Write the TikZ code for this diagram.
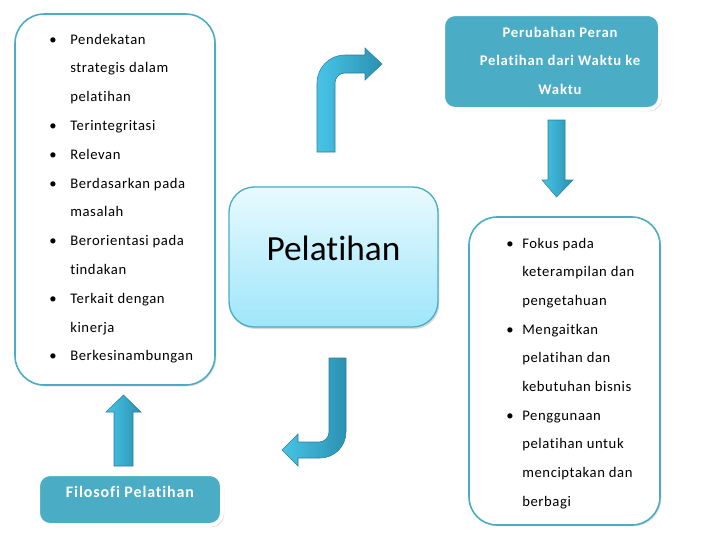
\documentclass[tikz,border=0pt]{standalone}
\usepackage{fontspec}
\setmainfont{Carlito}[Ligatures=NoCommon]
\newfontfamily\lsreg{Carlito}[LetterSpace=4, Ligatures=NoCommon]
\newfontfamily\lstitle{Carlito}[LetterSpace=5.5, Ligatures=NoCommon]
\usetikzlibrary{shadows}
\definecolor{teal5}{RGB}{75,172,198}
\definecolor{arrlight}{RGB}{72,196,230}
\definecolor{arrdark}{RGB}{42,145,178}
\definecolor{arredge}{RGB}{40,128,155}
\definecolor{ctop}{RGB}{232,250,255}
\definecolor{cbot}{RGB}{158,230,250}
\newcommand{\bitem}[2]{\par\hangindent=#1\noindent\makebox[#1][l]{\textbullet}#2}
\tikzset{
  listbox/.style={draw=teal5, line width=1.2pt, fill=white, inner sep=0pt,
    drop shadow={shadow xshift=1pt, shadow yshift=-1pt, opacity=0.25}},
  titlebox/.style={draw=white, line width=3pt, fill=teal5, inner sep=0pt, rounded corners=9pt,
    drop shadow={shadow xshift=1.5pt, shadow yshift=-1.5pt, opacity=0.35}},
  txt/.style={inner sep=0pt, font=\lsreg\fontsize{11pt}{21.5pt}\selectfont},
  bigarrow/.style={draw=arredge, line width=0.4pt, left color=arrlight, right color=arrdark}
}
\begin{document}
\begin{tikzpicture}[x=0.75pt,y=-0.75pt]
\useasboundingbox (0,0) rectangle (707,537);
% boxes
\node[listbox, rounded corners=22pt, minimum width=150pt, minimum height=278.25pt] (left) at (115,199.5) {};
\node[listbox, rounded corners=21pt, minimum width=143.25pt, minimum height=231pt] (right) at (564.5,371) {};
\node[draw=teal5, line width=1pt, rounded corners=19pt, top color=ctop, bottom color=cbot,
  minimum width=156.75pt, minimum height=105pt, inner sep=0pt,
  drop shadow={shadow xshift=1pt, shadow yshift=-1.5pt, opacity=0.3}] (center) at (333.5,257) {};
\node[inner sep=0pt, font=\fontsize{26.5pt}{30pt}\selectfont] (centertxt) at (333.5,248) {Pelatihan};
\node[titlebox, minimum width=162.75pt, minimum height=71.25pt] (topright) at (551.5,61.5) {};
\node[titlebox, minimum width=138pt, minimum height=38.25pt] (botleft) at (130,499.5) {};
% title texts
\node[inner sep=0pt, anchor=base, text=white, font=\lstitle\fontsize{11pt}{21.4pt}\selectfont\bfseries] (toptxt) at (560,37)
  {\begin{minipage}[t]{150pt}\centering Perubahan Peran\\Pelatihan dari Waktu ke\\Waktu\end{minipage}};
\node[inner sep=0pt, anchor=base, text=white, font=\lstitle\fontsize{12pt}{14pt}\selectfont\bfseries] (bottxt) at (130,497.5) {Filosofi Pelatihan};
% list texts
\node[txt, anchor=base west] (lefttxt) at (49,44) {\begin{minipage}[t]{145pt}\fontsize{11pt}{21.6pt}\selectfont
\bitem{15.75pt}{Pendekatan\\strategis dalam\\pelatihan}
\bitem{15.75pt}{Terintegritasi}
\bitem{15.75pt}{Relevan}
\bitem{15.75pt}{Berdasarkan pada\\masalah}
\bitem{15.75pt}{Berorientasi pada\\tindakan}
\bitem{15.75pt}{Terkait dengan\\kinerja}
\bitem{15.75pt}{Berkesinambungan}
\end{minipage}};
\node[txt, anchor=base west] (righttxt) at (506,248) {\begin{minipage}[t]{130pt}\fontsize{11pt}{21.5pt}\selectfont
\bitem{12pt}{Fokus pada\\keterampilan dan\\pengetahuan}
\bitem{12pt}{Mengaitkan\\pelatihan dan\\kebutuhan bisnis}
\bitem{12pt}{Penggunaan\\pelatihan untuk\\menciptakan dan\\berbagi}
\end{minipage}};
% arrows
\path[bigarrow] (317,152) -- (317,83) .. controls (317,67.5) and (329.5,55) .. (345,55)
  -- (365,55) -- (365,48) -- (382,64) -- (365,80) -- (365,73) -- (345,73)
  .. controls (339.5,73) and (335,77.5) .. (335,83) -- (335,152) -- cycle;
\path[bigarrow] (346,358) -- (346,432) .. controls (346,446.4) and (334.4,458) .. (320,458)
  -- (298,458) -- (298,466) -- (282,450) -- (298,434) -- (298,442) -- (319,442)
  .. controls (324.5,442) and (329,437.5) .. (329,432) -- (329,358) -- cycle;
\path[bigarrow] (114,466) -- (114,412) -- (106,412) -- (123.5,395) -- (141,412) -- (133,412) -- (133,466) -- cycle;
\path[bigarrow] (548,120) -- (548,180) -- (542,180) -- (556.5,197) -- (573,180) -- (565,180) -- (565,120) -- cycle;
\end{tikzpicture}
\end{document}
